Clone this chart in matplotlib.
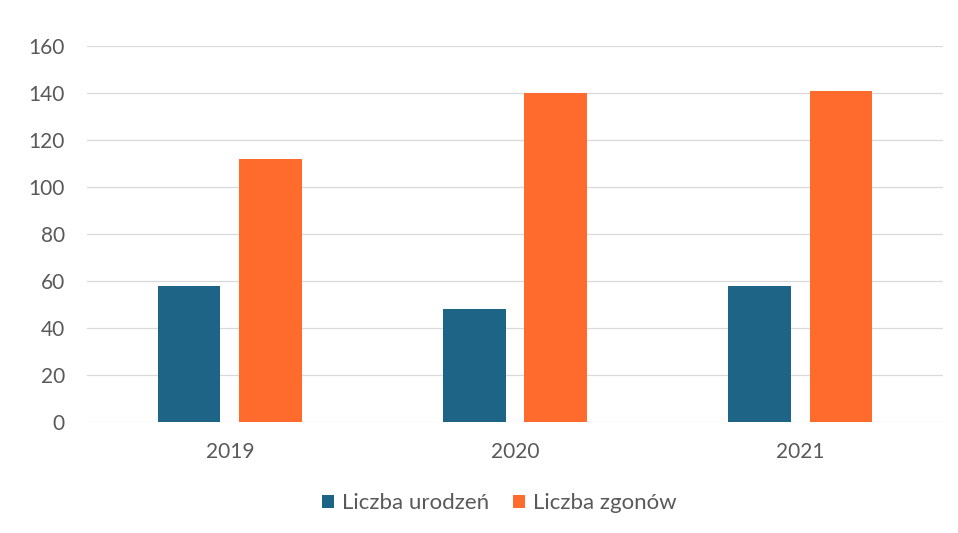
import matplotlib
matplotlib.use("Agg")
import matplotlib.pyplot as plt
import numpy as np

years = ["2019", "2020", "2021"]
births = [58, 48, 58]
deaths = [112, 140, 141]
series_names = ["Liczba urodzeń", "Liczba zgonów"]
yticks = [0, 20, 40, 60, 80, 100, 120, 140, 160]

plt.rcParams['font.family'] = ['Lato', 'DejaVu Sans']
fig = plt.figure(figsize=(9.58, 5.33), dpi=100)
ax = fig.add_axes([0.091, 0.208, 0.893, 0.706])

x = np.arange(len(years))
w = 0.22
off = 0.143
ax.bar(x - off, births, width=w, color='#1D6486', label=series_names[0], zorder=3)
ax.bar(x + off, deaths, width=w, color='#FF6B2C', label=series_names[1], zorder=3)

ax.set_xlim(-0.5, 2.5)
ax.set_ylim(0, 160)
ax.set_yticks(yticks)
ax.set_xticks(x)
ax.set_xticklabels(years)
ax.grid(axis='y', color='#D9D9D9', linewidth=0.9, zorder=0)
for s in ax.spines.values():
    s.set_visible(False)
ax.tick_params(axis='both', length=0, labelsize=15, colors='#595959')
ax.tick_params(axis='x', pad=14)
ax.tick_params(axis='y', pad=16)

leg = fig.legend(loc='center', bbox_to_anchor=(0.521, 0.056), ncol=2, frameon=False,
                 fontsize=16, handlelength=0.55, handleheight=0.55, columnspacing=1.1,
                 handletextpad=0.35)
for t in leg.get_texts():
    t.set_color('#595959')

fig.savefig("out.png", dpi=100)
